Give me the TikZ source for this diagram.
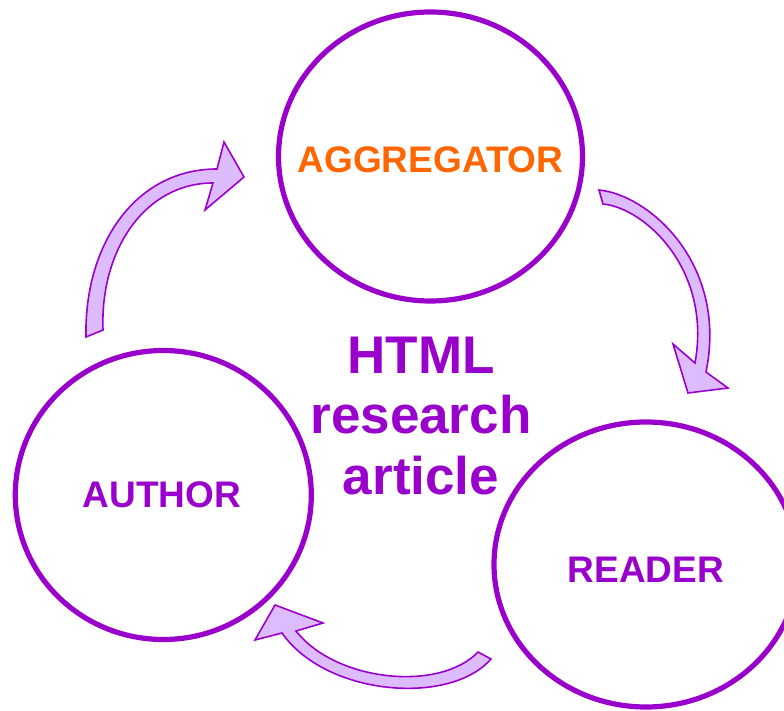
\documentclass[tikz,border=0pt]{standalone}
\usepackage{fontspec}
\setmainfont{Liberation Sans}
\usetikzlibrary{shapes.geometric}
\definecolor{cyclepurple}{HTML}{9900CC}
\definecolor{cyclelilac}{HTML}{DDBBFF}
\definecolor{cycleorange}{HTML}{FF6600}

\begin{document}
\begin{tikzpicture}[x=1pt,y=-1pt,
		role node/.style={ellipse,draw=cyclepurple,line width=5.2pt,inner sep=0pt},
		role label/.style={anchor=base,font=\bfseries\fontsize{37}{37}\selectfont,text=cyclepurple},
		cycle arrow/.style={draw=cyclepurple,fill=cyclelilac,line width=1.6pt,line join=miter}]

		\useasboundingbox (0,0) rectangle (784,711);

		% the three roles
		\node[role node, minimum width=304pt, minimum height=289pt] (aggregator) at (430.5,156.5) {};
		\node[role node, minimum width=296pt, minimum height=289pt] (author) at (163.3,495) {};
		\node[role node, minimum width=304pt, minimum height=285pt] (reader) at (646,564.5) {};

		\node[role label, text=cycleorange] (aggregatorname) at (430.5,173) {AGGREGATOR};
		\node[role label] (authorname) at (162,507) {AUTHOR};
		\node[role label] (readername) at (646,582) {READER};

		\node[align=center,font=\bfseries\fontsize{53}{60.5}\selectfont,text=cyclepurple]
			(article) at (421,416) {HTML\\research\\article};

		% author -> aggregator
		\draw[cycle arrow] (86,337) .. controls (84,245) and (135,169) .. (217,169)
			-- (224,142) -- (244,177) -- (205,210) -- (213,183)
			.. controls (145,183) and (100,250) .. (103,330) -- cycle;
		% aggregator -> reader
		\draw[cycle arrow] (599,190) .. controls (650,195) and (728,265) .. (706,372)
			-- (728,388) -- (688,393) -- (673,344) -- (695,363)
			.. controls (712,270) and (645,208) .. (603,204) -- cycle;
		% reader -> author
		\draw[cycle arrow] (491,659) .. controls (450,706) and (326,696) .. (282,633)
			-- (255,640) -- (275,605) -- (323,623) -- (296,631)
			.. controls (336,682) and (440,692) .. (478,652) -- cycle;
\end{tikzpicture}
\end{document}
